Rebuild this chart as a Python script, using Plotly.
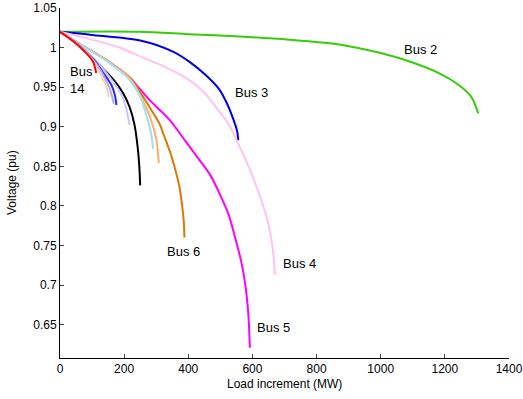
import plotly.graph_objects as go

# ---- data ----
bus2_x = [0, 250, 400, 560, 715, 870, 990, 1085, 1180, 1242, 1282, 1304]
bus2_y = [1.02, 1.020, 1.017, 1.014, 1.010, 1.004, 0.994, 0.983, 0.968, 0.953, 0.938, 0.917]

bus3_x = [0, 100, 250, 352, 404, 455, 497, 520, 540, 552, 556]
bus3_y = [1.02, 1.016, 1.009, 0.995, 0.982, 0.965, 0.947, 0.930, 0.910, 0.895, 0.883]

bus4_x = [0, 80, 180, 255, 330, 403, 450, 486, 528, 553, 575, 600, 627, 645, 658, 666, 670]
bus4_y = [1.02, 1.012, 1.001, 0.988, 0.975, 0.959, 0.943, 0.925, 0.902, 0.881, 0.862, 0.838,
          0.808, 0.785, 0.760, 0.737, 0.713]

bus5_x = [0, 56, 149, 221, 238, 279, 341, 391, 435, 470, 497, 525, 548, 565, 578, 587, 592]
bus5_y = [1.02, 1.006, 0.983, 0.961, 0.953, 0.934, 0.909, 0.882, 0.858, 0.838, 0.816, 0.790,
          0.757, 0.730, 0.700, 0.665, 0.621]

bus6_x = [0, 56, 149, 221, 240, 279, 310, 326, 345, 360, 372, 381, 386, 388]
bus6_y = [1.02, 1.006, 0.983, 0.961, 0.950, 0.925, 0.904, 0.887, 0.866, 0.845, 0.825, 0.800, 0.780, 0.760]

sandy_x = [0, 56, 149, 218, 258, 280, 300, 308]
sandy_y = [1.02, 1.006, 0.983, 0.961, 0.933, 0.913, 0.885, 0.854]

cyan_x = [0, 56, 149, 215, 248, 269, 285, 290]
cyan_y = [1.02, 1.006, 0.982, 0.960, 0.940, 0.915, 0.889, 0.872]

black_x = [0, 56, 118, 170, 196, 217, 232, 242, 247, 250]
black_y = [1.02, 1.004, 0.980, 0.958, 0.943, 0.925, 0.903, 0.875, 0.852, 0.826]

peri_x = [0, 56, 110, 160, 192, 207, 217]
peri_y = [1.02, 1.004, 0.984, 0.960, 0.940, 0.922, 0.902]

bluem_x = [0, 56, 105, 128, 160, 171, 176]
bluem_y = [1.02, 1.004, 0.985, 0.972, 0.953, 0.940, 0.9275]

lav_x = [0, 56, 105, 130, 155, 168]
lav_y = [1.02, 1.004, 0.984, 0.969, 0.948, 0.929]

wheat_x = [0, 50, 100, 119, 140, 150, 152]
wheat_y = [1.02, 1.005, 0.985, 0.972, 0.955, 0.943, 0.937]

bus14_x = [0, 41, 77, 102, 113]
bus14_y = [1.02, 1.008, 0.995, 0.983, 0.968]

series = [
    (bus2_x, bus2_y, "rgb(55,205,10)"),
    (bus3_x, bus3_y, "rgb(0,0,225)"),
    (bus4_x, bus4_y, "rgb(255,195,240)"),
    (bus5_x, bus5_y, "rgb(255,0,255)"),
    (bus6_x, bus6_y, "rgb(220,120,0)"),
    (sandy_x, sandy_y, "rgb(255,170,110)"),
    (cyan_x, cyan_y, "rgb(160,225,240)"),
    (black_x, black_y, "rgb(0,0,0)"),
    (peri_x, peri_y, "rgb(200,200,255)"),
    (bluem_x, bluem_y, "rgb(40,40,255)"),
    (lav_x, lav_y, "rgb(185,165,255)"),
    (wheat_x, wheat_y, "rgb(240,215,175)"),
    (bus14_x, bus14_y, "rgb(255,0,0)"),
]

labels = ["Bus 2", "Bus 3", "Bus 4", "Bus 5", "Bus 6", "Bus<br>14"]
label_x = [1066, 540, 688, 609, 328, 26]
label_y = [0.997, 0.943, 0.727, 0.647, 0.743, 0.959]

FONT = "Liberation Sans, Arial"

fig = go.Figure()
for xs, ys, c in series:
    fig.add_trace(go.Scatter(x=xs, y=ys, mode="lines",
                             line=dict(color=c, width=2, shape="spline", smoothing=0.8),
                             showlegend=False, hoverinfo="skip"))

for t, lx, ly in zip(labels, label_x, label_y):
    fig.add_annotation(x=lx, y=ly, text=t, showarrow=False, xanchor="left",
                       yanchor="middle", align="left",
                       font=dict(family=FONT, size=13, color="black"))

fig.add_annotation(xref="paper", yref="paper", x=0.5, y=0, yshift=-26,
                   text="Load increment (MW)", showarrow=False,
                   xanchor="center", yanchor="middle",
                   font=dict(family=FONT, size=12, color="black"))
fig.add_annotation(xref="paper", yref="paper", x=0, y=0.5, xshift=-48,
                   text="Voltage (pu)", showarrow=False, textangle=-90,
                   xanchor="center", yanchor="middle",
                   font=dict(family=FONT, size=12, color="black"))

fig.update_layout(
    width=523, height=399,
    margin=dict(l=60, r=14, t=8, b=41, autoexpand=False),
    paper_bgcolor="white", plot_bgcolor="white",
    font=dict(family=FONT, size=12, color="black"),
    xaxis=dict(range=[0, 1400], tickvals=[0, 200, 400, 600, 800, 1000, 1200, 1400],
               ticks="inside", ticklen=4, showline=True, linecolor="black", linewidth=1,
               showgrid=False, zeroline=False, automargin=False,
               ticklabeloverflow="allow"),
    yaxis=dict(range=[0.608, 1.05], tickvals=[0.65, 0.7, 0.75, 0.8, 0.85, 0.9, 0.95, 1, 1.05],
               ticktext=["0.65", "0.7", "0.75", "0.8", "0.85", "0.9", "0.95", "1", "1.05"],
               ticks="inside", ticklen=4, showline=True, linecolor="black", linewidth=1,
               showgrid=False, zeroline=False, automargin=False,
               ticklabeloverflow="allow"),
)

fig.write_html("out.html", config={"displayModeBar": False},
               post_script="document.body.style.margin='0';document.body.style.overflow='hidden';")
